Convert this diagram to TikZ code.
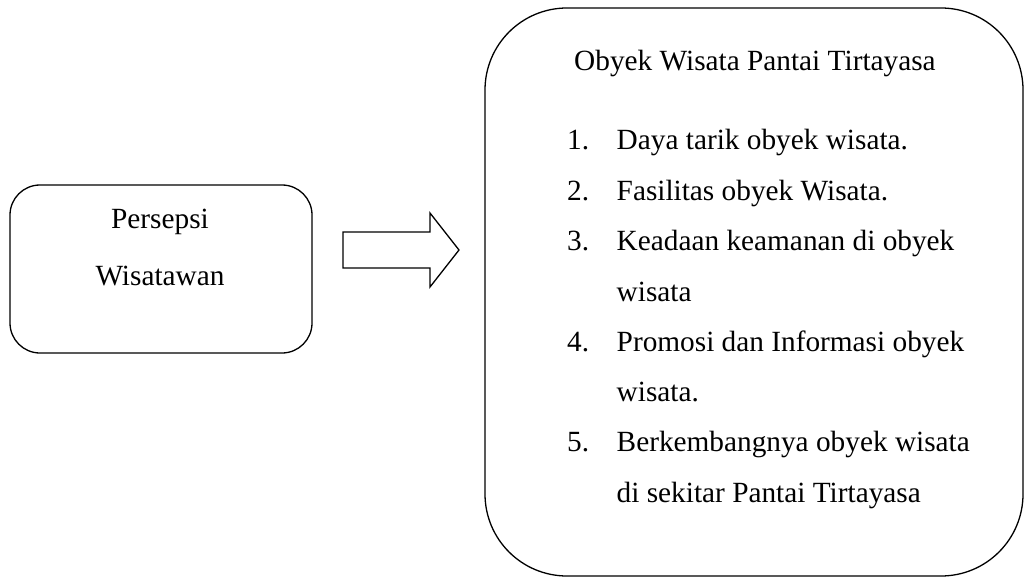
\documentclass[tikz,border=0pt]{standalone}
\usepackage{fontspec}
\setmainfont{Liberation Serif}
\begin{document}
\begin{tikzpicture}[x=1pt,y=-1pt,
  box/.style={draw=black, line width=1.3pt, rectangle, inner sep=0pt},
  txt/.style={inner sep=0pt, font=\fontsize{29.3}{35}\selectfont},
  blockarrow/.style={draw=black, line width=1.3pt, line join=miter}]
\useasboundingbox (0,0) rectangle (1024,577);
% left box
\node[box, rounded corners=30pt, minimum width=302pt, minimum height=168pt] (left) at (161,269) {};
\node[txt, anchor=base] (p1) at (160,229) {Persepsi};
\node[txt, anchor=base] (p2) at (160,285) {Wisatawan};
% right box
\node[box, rounded corners=82pt, minimum width=538pt, minimum height=568pt] (right) at (754,292) {};
\node[txt, anchor=base west] (title) at (574,71) {Obyek Wisata Pantai Tirtayasa};
\node[txt, anchor=base west] (n1) at (567,150) {1.};
\node[txt, anchor=base west] (i1) at (616.5,150) {Daya tarik obyek wisata.};
\node[txt, anchor=base west] (n2) at (567,200.5) {2.};
\node[txt, anchor=base west] (i2) at (616.5,200.5) {Fasilitas obyek Wisata.};
\node[txt, anchor=base west] (n3) at (567,251) {3.};
\node[txt, anchor=base west] (i3) at (616.5,251) {Keadaan keamanan di obyek};
\node[txt, anchor=base west] (i3b) at (616.5,301) {wisata};
\node[txt, anchor=base west] (n4) at (567,351) {4.};
\node[txt, anchor=base west] (i4) at (616.5,351) {Promosi dan Informasi obyek};
\node[txt, anchor=base west] (i4b) at (616.5,401) {wisata.};
\node[txt, anchor=base west] (n5) at (567,451.5) {5.};
\node[txt, anchor=base west] (i5) at (616.5,451.5) {Berkembangnya obyek wisata};
\node[txt, anchor=base west] (i5b) at (616.5,502) {di sekitar Pantai Tirtayasa};
% block arrow
\coordinate (a1) at (459,250);
\draw[blockarrow] (343,232) -- (430,232) -- (430,213) -- (a1) -- (430,287) -- (430,268) -- (343,268) -- cycle;
\end{tikzpicture}
\end{document}
